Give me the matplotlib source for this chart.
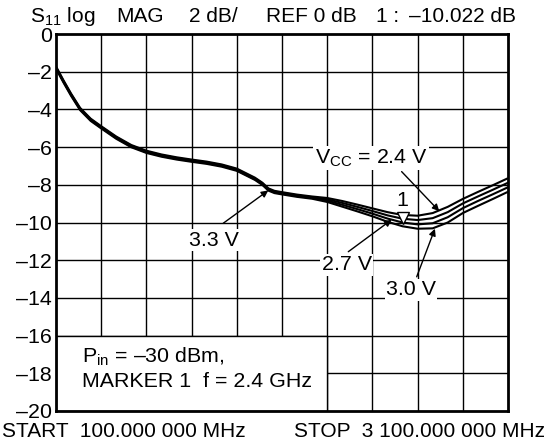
import matplotlib
matplotlib.use('Agg')
import matplotlib.pyplot as plt
import matplotlib.transforms as mtransforms
from matplotlib.patches import Rectangle

plt.rcParams['font.family'] = ['Liberation Sans', 'DejaVu Sans']
plt.rcParams['mathtext.fontset'] = 'custom'
plt.rcParams['mathtext.rm'] = 'Liberation Sans'

FS = 15.4

# frequency axis, MHz
freq = [100, 150, 200, 260, 330, 400, 500, 600, 700, 800, 900, 1000, 1100, 1200,
        1300, 1370, 1420, 1470, 1510, 1550, 1600, 1700, 1800, 1900, 2000, 2100,
        2200, 2300, 2400, 2500, 2600, 2700, 2800, 2900, 3000, 3100]

# S11 (dB), one list per supply voltage
s11_24 = [-1.72, -2.46, -3.16, -3.92, -4.49, -4.89, -5.44, -5.89, -6.19, -6.39, -6.54,
          -6.66, -6.77, -6.92, -7.14, -7.42, -7.62, -7.89, -8.19, -8.32, -8.39, -8.52,
          -8.62, -8.70, -8.86, -9.05, -9.25, -9.45, -9.60, -9.64, -9.50, -9.17, -8.75,
          -8.38, -8.02, -7.65]
s11_27 = [-1.76, -2.50, -3.20, -3.96, -4.53, -4.93, -5.48, -5.93, -6.23, -6.43, -6.58,
          -6.70, -6.81, -6.96, -7.18, -7.46, -7.66, -7.93, -8.23, -8.36, -8.43, -8.56,
          -8.66, -8.77, -8.96, -9.17, -9.39, -9.62, -9.80, -9.87, -9.77, -9.45, -8.99,
          -8.62, -8.26, -7.89]
s11_33 = [-1.80, -2.54, -3.24, -4.00, -4.57, -4.97, -5.52, -5.97, -6.27, -6.47, -6.62,
          -6.74, -6.85, -7.00, -7.22, -7.50, -7.70, -7.97, -8.27, -8.40, -8.47, -8.60,
          -8.70, -8.84, -9.06, -9.29, -9.53, -9.79, -10.00, -10.10, -10.04, -9.72, -9.24,
          -8.86, -8.50, -8.13]
s11_30 = [-1.84, -2.58, -3.28, -4.04, -4.61, -5.01, -5.56, -6.01, -6.31, -6.51, -6.66,
          -6.78, -6.89, -7.04, -7.26, -7.54, -7.74, -8.01, -8.31, -8.44, -8.51, -8.64,
          -8.74, -8.91, -9.16, -9.41, -9.67, -9.96, -10.20, -10.33, -10.31, -10.00, -9.50,
          -9.12, -8.75, -8.37]

marker_f = 2400
marker_db = -10.022

yticks = [0, -2, -4, -6, -8, -10, -12, -14, -16, -18, -20]
xgrid = [100 + 300 * i for i in range(11)]

fig = plt.figure(figsize=(5.54, 4.43), dpi=100)
ax = fig.add_axes([56 / 554, 32 / 443, 452 / 554, 377 / 443])
ax.set_xlim(100, 3100)
ax.set_ylim(-20, 0)

for x in xgrid[1:-1]:
    ax.axvline(x, color='black', lw=1.0, zorder=1)
for y in yticks[1:-1]:
    ax.axhline(y, color='black', lw=1.0, zorder=1)

# info box in the lower left cell block
ax.add_patch(Rectangle((100, -20), 1800, 4, facecolor='white', edgecolor='black',
                       lw=1.0, zorder=2))
ax.text(270, -17.1, 'P$_{\\mathregular{in}}$ = –30 dBm,', fontsize=FS, va='center', zorder=3)
ax.text(270, -18.45, 'MARKER 1  f = 2.4 GHz', fontsize=FS, va='center', zorder=3)

for s in [s11_24, s11_27, s11_33, s11_30]:
    ax.plot(freq, s, color='black', lw=1.5, zorder=4, solid_capstyle='butt')

# marker 1
tr = mtransforms.offset_copy(ax.transData, fig=fig, x=0, y=5, units='dots')
ax.plot([marker_f], [marker_db], marker='v', ms=9, mfc='white', mec='black', mew=1.0,
        transform=tr, zorder=6)
ax.annotate('1', (marker_f, marker_db), xytext=(0, 22), textcoords='offset pixels',
            ha='center', va='center', fontsize=FS, zorder=6)

arrow = dict(arrowstyle='-|>', color='black', lw=1.0, mutation_scale=10,
             shrinkA=0, shrinkB=0)
box = dict(facecolor='white', edgecolor='none', pad=1.0)
labels = [
    ('V$_{\\mathregular{CC}}$ = 2.4 V', (2191, -6.58), (2394, -7.30), (2644, -9.40)),
    ('2.7 V', (2029, -12.25), (2040, -11.55), (2328, -9.85)),
    ('3.0 V', (2456, -13.58), (2494, -12.88), (2615, -10.33)),
    ('3.3 V', (1149, -10.93), (1210, -10.04), (1509, -8.30)),
]
for txt, pos, tail, head in labels:
    ax.annotate('', xy=head, xytext=tail, arrowprops=arrow, zorder=5)
    ax.text(pos[0], pos[1], txt, fontsize=FS, ha='center', va='center', bbox=box, zorder=5)

ax.set_xticks([])
ax.set_yticks(yticks)
ax.set_yticklabels(['0' if v == 0 else '–%d' % -v for v in yticks], fontsize=FS)
ax.tick_params(axis='y', length=0, pad=3)
for sp in ax.spines.values():
    sp.set_linewidth(2.0)
    sp.set_zorder(7)

# header line
head = [(30, 'S$_{\\mathregular{11}}$ log'), (116, 'MAG'), (189, '2 dB/'),
        (266, 'REF 0 dB'), (376, '1 :'), (409, '–10.022 dB')]
for px, t in head:
    fig.text(px / 554, 1 - 22 / 443, t, fontsize=15, va='baseline')

fig.text(2 / 554, 1 - 437 / 443, 'START  100.000 000 MHz', fontsize=15, va='baseline')
fig.text(294 / 554, 1 - 437 / 443, 'STOP  3 100.000 000 MHz', fontsize=15, va='baseline')

fig.savefig('out.png', dpi=100)
